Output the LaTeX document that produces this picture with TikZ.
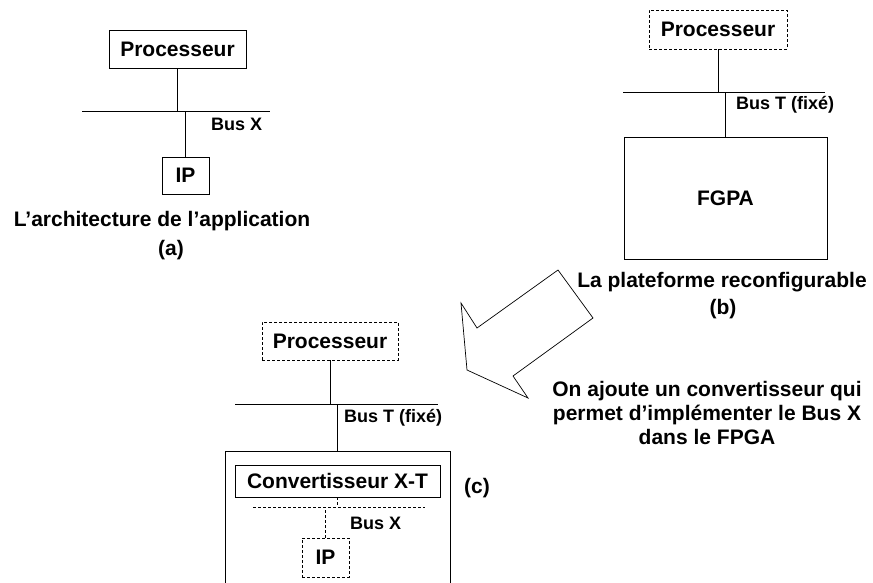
\documentclass[tikz,border=0pt]{standalone}
\usepackage{fontspec}
\setmainfont{Liberation Sans}
\begin{document}
\begin{tikzpicture}[x=1pt,y=-1pt,
  box/.style={draw, line width=0.8pt, inner sep=0pt, font=\fontsize{21}{25}\selectfont\bfseries},
  dbox/.style={box, dash pattern=on 3pt off 2pt},
  lbl/.style={inner sep=0pt, font=\fontsize{21}{25}\selectfont\bfseries},
  buslbl/.style={inner sep=0pt, anchor=base west, font=\fontsize{18}{21}\selectfont\bfseries},
  wire/.style={line width=0.8pt},
  dwire/.style={wire, dash pattern=on 3pt off 2pt}]
\useasboundingbox (0,0) rectangle (873,583);

% ---------- (a) ----------
\node[box, minimum width=137pt, minimum height=38pt] (pa) at (177.5,49) {Processeur};
\coordinate (busaL) at (82,111);
\coordinate (busaR) at (270,111);
\node[box, minimum width=47pt, minimum height=37pt] (ipa) at (185.5,175.5) {IP};
\draw[wire] (busaL) -- (busaR);
\draw[wire] (pa.south) -- (pa.south |- busaL);
\draw[wire] (ipa.north) -- (ipa.north |- busaL);
\node[buslbl] (busxa) at (211,131) {Bus X};
\node[lbl, anchor=base] (titlea) at (162,226) {L’architecture de l’application};
\node[lbl, anchor=base] (capa) at (171,255) {(a)};

% ---------- (b) ----------
\node[dbox, minimum width=138pt, minimum height=39pt] (pb) at (718,29.5) {Processeur};
\coordinate (busbL) at (623,92);
\coordinate (busbR) at (825,92);
\node[box, minimum width=203pt, minimum height=122pt] (fpgab) at (725.5,198) {FGPA};
\draw[wire] (busbL) -- (busbR);
\draw[wire] (pb.south) -- (pb.south |- busbL);
\draw[wire] (fpgab.north) -- (fpgab.north |- busbL);
\node[buslbl] (bustb) at (736,110) {Bus T (fixé)};
\node[lbl, anchor=base] (titleb) at (722,287) {La plateforme reconfigurable};
\node[lbl, anchor=base] (capb) at (723,314) {(b)};

% ---------- big arrow ----------
\draw[line width=0.7pt, fill=white, line join=miter]
  (558,270) -- (477,328) -- (461,303) -- (467,370) -- (528,398) -- (513,376) -- (593,318) -- cycle;
\node[lbl, align=center, font=\fontsize{21}{24}\selectfont\bfseries] (note) at (707,412.5)
  {On ajoute un convertisseur qui\\permet d’implémenter le Bus X\\dans le FPGA};

% ---------- (c) ----------
\node[dbox, minimum width=136pt, minimum height=38pt] (pc) at (330,341) {Processeur};
\coordinate (buscL) at (235,404);
\coordinate (buscR) at (438,404);
\node[box, minimum width=225pt, minimum height=160pt] (fpgac) at (337.5,531) {};
\draw[wire] (buscL) -- (buscR);
\draw[wire] (pc.south) -- (pc.south |- buscL);
\draw[wire] (fpgac.north) -- (fpgac.north |- buscL);
\node[buslbl] (bustc) at (344,422) {Bus T (fixé)};
\node[box, minimum width=205pt, minimum height=32pt] (conv) at (337.5,481) {Convertisseur X-T};
\coordinate (busxcL) at (253,507);
\coordinate (busxcR) at (425,507);
\node[dbox, minimum width=47pt, minimum height=39pt] (ipc) at (325.5,557.5) {IP};
\draw[dwire] (busxcL) -- (busxcR);
\draw[dwire] (conv.south) -- (conv.south |- busxcL);
\draw[dwire] (ipc.north) -- (ipc.north |- busxcL);
\node[buslbl] (busxc) at (350,529) {Bus X};
\node[lbl, anchor=base] (capc) at (477,493) {(c)};
\end{tikzpicture}
\end{document}
